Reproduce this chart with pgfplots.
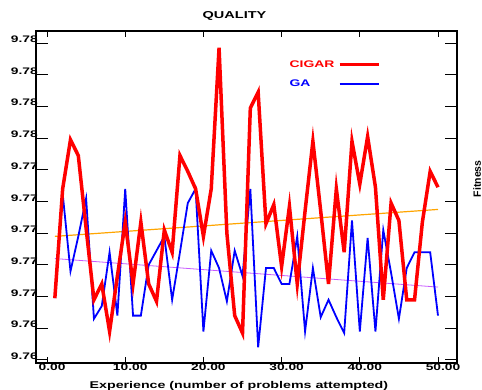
\documentclass[border=0pt]{standalone}
\usepackage{fontspec}
\setmainfont{Liberation Sans}[FakeStretch=1.45]
\newfontfamily\fitfont{Liberation Sans}
\usepackage{pgfplots}
\pgfplotsset{compat=1.18}
\definecolor{trendorange}{RGB}{255,165,0}
\definecolor{trendpurple}{RGB}{200,90,255}
\pgfplotstableread{
x y
1 9.7659
2 9.7728
3 9.7759
4 9.7749
5 9.7703
6 9.7658
7 9.7668
8 9.7638
9 9.7673
10 9.7707
11 9.7668
12 9.7707
13 9.7668
14 9.7657
15 9.7702
16 9.7688
17 9.7749
18 9.7739
19 9.7728
20 9.7698
21 9.7728
22 9.7817
23 9.7700
24 9.7648
25 9.7637
26 9.7779
27 9.7789
28 9.7706
29 9.7718
30 9.7679
31 9.7717
32 9.7668
33 9.7714
34 9.7758
35 9.7714
36 9.7668
37 9.7728
38 9.7688
39 9.7758
40 9.7731
41 9.7761
42 9.7729
43 9.7658
44 9.7719
45 9.7708
46 9.7658
47 9.7658
48 9.7707
49 9.7739
50 9.7729
}\cigar
\pgfplotstableread{
x y
1 9.7659
2 9.7725
3 9.7676
4 9.7698
5 9.7722
6 9.7646
7 9.7654
8 9.7688
9 9.7648
10 9.7728
11 9.7648
12 9.7648
13 9.7680
14 9.7689
15 9.7698
16 9.7658
17 9.7688
18 9.7719
19 9.7728
20 9.7638
21 9.7689
22 9.7678
23 9.7657
24 9.7689
25 9.7673
26 9.7728
27 9.7628
28 9.7678
29 9.7678
30 9.7668
31 9.7668
32 9.7698
33 9.7638
34 9.7678
35 9.7647
36 9.7658
37 9.7647
38 9.7637
39 9.7708
40 9.7638
41 9.7697
42 9.7638
43 9.7702
44 9.7675
45 9.7646
46 9.7678
47 9.7688
48 9.7688
49 9.7688
50 9.7648
}\ga
\begin{document}
\begin{tikzpicture}
\useasboundingbox (0pt,0pt) rectangle (482pt,390pt);
\begin{axis}[
  at={(36pt,27pt)}, anchor=south west,
  scale only axis, width=421pt, height=332pt,
  xmin=-1.41, xmax=52.43, ymin=9.76181, ymax=9.78276,
  axis line style={line width=1.2pt},
  tick align=inside,
  tick style={line width=1pt, black},
  xtick style={/pgfplots/major tick length=6pt},
  ytick style={/pgfplots/major tick length=12pt},
  xtick={0,10,20,30,40,50},
  xticklabels={0.00,10.00,20.00,30.00,40.00,50.00},
  ytick={9.762,9.764,9.766,9.768,9.770,9.772,9.774,9.776,9.778,9.780,9.782},
  yticklabels={9.76,9.76,9.77,9.77,9.77,9.77,9.77,9.78,9.78,9.78,9.78},
  xticklabel style={font=\fontsize{9.5}{11}\selectfont\bfseries, anchor=north, inner sep=0pt, yshift=-1pt, xshift=5pt},
  yticklabel style={font=\fontsize{9.5}{11}\selectfont\bfseries, anchor=base east, inner sep=0pt, xshift=2pt, yshift=0.5pt},
  title={QUALITY},
  title style={font=\fontsize{10}{12}\selectfont\bfseries, at={(rel axis cs:0.4715,1)}, anchor=base, yshift=6pt},
  xlabel={Experience (number of problems attempted)},
  xlabel style={font=\fontsize{9.8}{12}\selectfont\bfseries, at={(rel axis cs:0.482,0)}, anchor=base, yshift=-26pt},
  ylabel={Fitness},
  ylabel style={font=\fitfont\fontsize{10.5}{12}\selectfont\bfseries, at={(rel axis cs:1.0475,0.555)}, anchor=center},
  legend plot pos=right,
  reverse legend,
  legend cell align=left,
  legend image code/.code={\draw[#1, line width=2.2pt] (0pt,0pt) -- (39pt,0pt);},
  legend style={at={(rel axis cs:0.59,0.924)}, anchor=north west, draw=none, fill=none,
    font=\fontsize{9.6}{11}\selectfont\bfseries, row sep=7pt, column sep=2pt},
]
\addplot[trendorange, line width=1.2pt, forget plot] coordinates {(1,9.7698) (50,9.7715)};
\addplot[trendpurple, line width=0.8pt, forget plot] coordinates {(1,9.7684) (50,9.7666)};
\addplot[blue, line width=1.8pt, line join=miter] table[x=x,y=y]{\ga};
\addlegendentry{\textcolor{blue}{GA}}
\addplot[red, line width=3.5pt, line join=miter] table[x=x,y=y]{\cigar};
\addlegendentry{\textcolor{red}{CIGAR}}
\end{axis}
\end{tikzpicture}
\end{document}
